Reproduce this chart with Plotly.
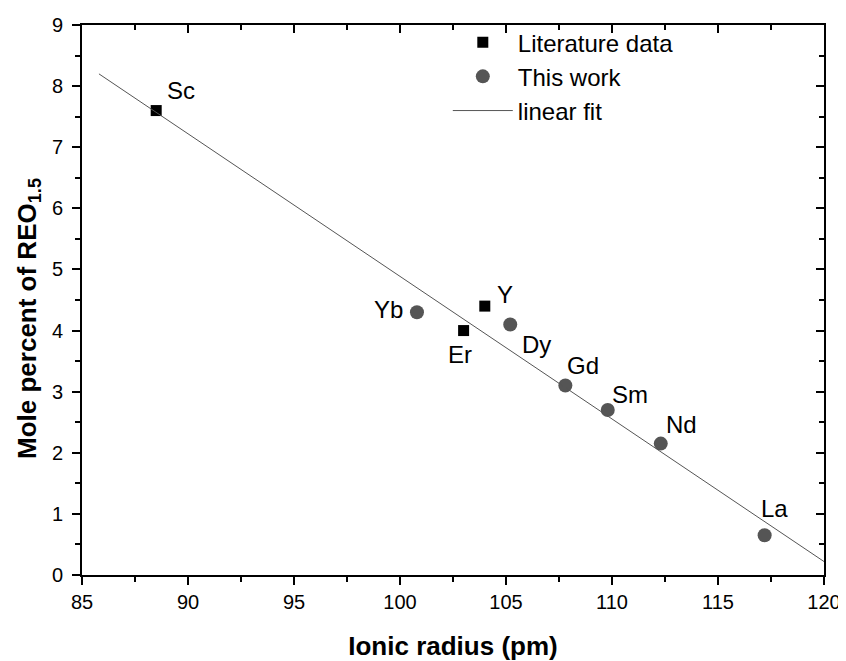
import numpy as np
import plotly.graph_objects as go

# literature data (squares)
lit_el = ["Sc", "Er", "Y"]
lit_r = [88.5, 103.0, 104.0]
lit_mol = [7.6, 4.0, 4.4]

# this work (circles)
work_el = ["Yb", "Dy", "Gd", "Sm", "Nd", "La"]
work_r = [100.8, 105.2, 107.8, 109.8, 112.3, 117.2]
work_mol = [4.3, 4.1, 3.1, 2.7, 2.15, 0.65]

# linear fit endpoints
fit_r = [85.8, 120.0]
fit_mol = [8.2, 0.22]

# label offsets (px) for element names
label_shift = {
    "Sc": (25, 20), "Er": (-4, -24), "Y": (20, 12),
    "Yb": (-28, 3), "Dy": (26, -20), "Gd": (18, 20),
    "Sm": (22, 16), "Nd": (21, 19), "La": (10, 27),
}

FONT = "Liberation Sans, Arial, sans-serif"

fig = go.Figure()
fig.add_trace(go.Scatter(x=lit_r, y=lit_mol, mode="markers", name="Literature data",
                         marker=dict(symbol="square", size=11, color="black")))
fig.add_trace(go.Scatter(x=work_r, y=work_mol, mode="markers", name="This work",
                         marker=dict(symbol="circle", size=14, color="#555555")))
fig.add_trace(go.Scatter(x=fit_r, y=fit_mol, mode="lines", name="linear fit",
                         line=dict(color="#555555", width=1)))

for el, r, m in zip(lit_el + work_el, lit_r + work_r, lit_mol + work_mol):
    dx, dy = label_shift[el]
    fig.add_annotation(x=r, y=m, text=el, showarrow=False, xshift=dx, yshift=dy,
                       font=dict(size=24, color="black", family=FONT))

# y axis title as annotation (it sits a little below the plot centre)
fig.add_annotation(xref="paper", yref="paper", x=-0.073, y=0.467, textangle=-90,
                   text="<b>Mole percent of REO<sub>1.5</sub></b>", showarrow=False,
                   xanchor="center", yanchor="middle", font=dict(size=26, color="black"))

axis_common = dict(showline=True, linecolor="black", linewidth=2, showgrid=False,
                   zeroline=False, ticklen=8, tickwidth=2, tickcolor="black",
                   automargin=False)

# page has an 8px body margin, so the figure is a bit smaller than the window
fig.update_layout(
    width=838, height=653,
    paper_bgcolor="white", plot_bgcolor="white",
    margin=dict(l=74, r=22, t=12, b=86),
    font=dict(family=FONT, color="black"),
    xaxis=dict(range=[85, 120], dtick=5, ticks="outside",
               tickfont=dict(size=20),
               minor=dict(dtick=2.5, ticks="outside", ticklen=5, tickwidth=2, tickcolor="black"),
               title=dict(text="<b>Ionic radius (pm)</b>", font=dict(size=26), standoff=26),
               **axis_common),
    yaxis=dict(range=[0, 9], dtick=1, ticks="outside", ticklabelstandoff=5,
               tickfont=dict(size=20),
               minor=dict(dtick=0.5, ticks="outside", ticklen=5, tickwidth=2, tickcolor="black"),
               **axis_common),
    xaxis2=dict(range=[85, 120], dtick=5, ticks="inside", overlaying="x", side="top",
                showticklabels=False,
                minor=dict(dtick=2.5, ticks="inside", ticklen=5, tickwidth=2, tickcolor="black"),
                **axis_common),
    yaxis2=dict(range=[0, 9], dtick=1, ticks="inside", overlaying="y", side="right",
                showticklabels=False,
                minor=dict(dtick=0.5, ticks="inside", ticklen=5, tickwidth=2, tickcolor="black"),
                **axis_common),
    legend=dict(x=0.493, y=1.009, xanchor="left", yanchor="top", bgcolor="rgba(0,0,0,0)",
                font=dict(size=24), itemwidth=60, tracegroupgap=0),
    showlegend=True,
)
# dummy trace to activate the mirror axes
fig.add_trace(go.Scatter(x=[None], y=[None], xaxis="x2", yaxis="y2", showlegend=False))

fig.write_html("out.html")
